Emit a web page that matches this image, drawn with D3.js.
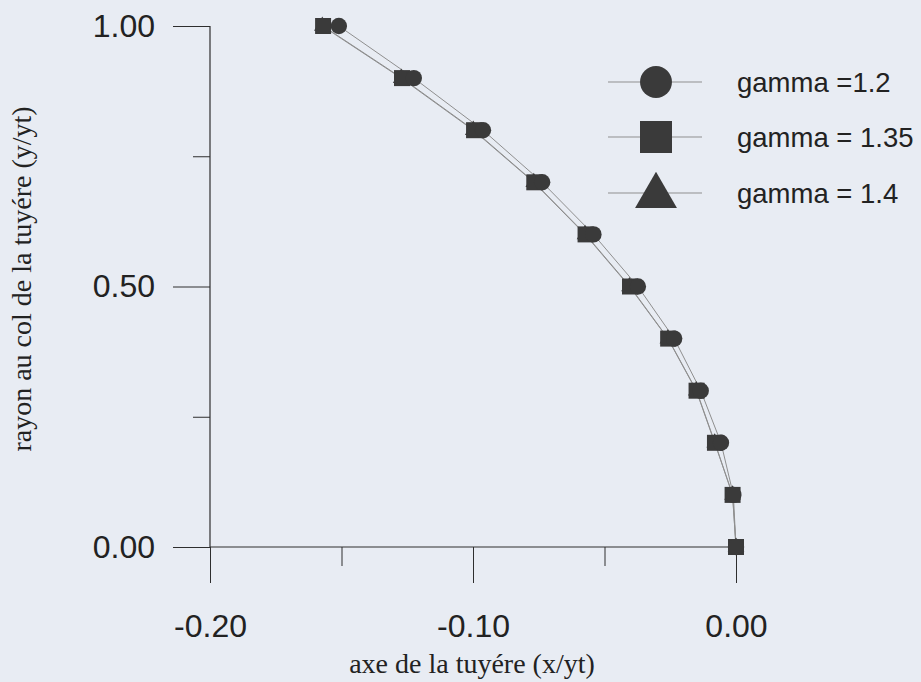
<!DOCTYPE html>
<html>
<head>
<meta charset="utf-8">
<script src="https://cdn.jsdelivr.net/npm/d3@7"></script>
<style>
  html, body { margin: 0; padding: 0; background: #e8ecf3; }
  svg { display: block; }
</style>
</head>
<body>
<svg id="chart" width="921" height="682"></svg>
<script>
// Nozzle wall profile: radius at throat (y/yt) vs nozzle axis (x/yt)
const radius = [1.0, 0.9, 0.8, 0.7, 0.6, 0.5, 0.4, 0.3, 0.2, 0.1, 0.0];
const xGamma120 = [-0.151, -0.1225, -0.0962, -0.0737, -0.0542, -0.0373, -0.0235, -0.0134, -0.0057, -0.0010, 0.0];
const xGamma135 = [-0.157, -0.127, -0.0996, -0.0767, -0.0572, -0.0403, -0.0258, -0.0150, -0.0080, -0.0013, 0.0];
const xGamma140 = [-0.1573, -0.1273, -0.0999, -0.0769, -0.0574, -0.0405, -0.0259, -0.0151, -0.0081, -0.0013, 0.0];

const seriesNames = ["gamma =1.2", "gamma = 1.35", "gamma = 1.4"];
const seriesShapes = [d3.symbolCircle, d3.symbolSquare, d3.symbolTriangle];

const xTicksMajor = [-0.20, -0.10, 0.00];
const xTicksMinor = [-0.15, -0.05];
const yTicksMajor = [0.00, 0.50, 1.00];
const yTicksMinor = [0.25, 0.75];

const svg = d3.select("#chart");

const x = d3.scaleLinear().domain([-0.20, 0.00]).range([210, 736]);
const y = d3.scaleLinear().domain([0, 1]).range([547, 26]);

const axisColor = "#2e2e2e";
const markColor = "#3a3a3a";
const lineColor = "#8f8f8f";
const fmt = d => d3.format(".2f")(d).replace("\u2212", "-");

// Axes: x axis along y = 0, y axis along x = -0.20, ticks pointing outward
const g = svg.append("g");

const xAxis = d3.axisBottom(x)
  .tickValues(xTicksMajor)
  .tickSize(36)
  .tickPadding(31)
  .tickFormat(fmt);
const xAxisG = g.append("g")
  .attr("transform", `translate(0,${y(0)})`)
  .call(xAxis);
xAxisG.select(".domain").remove();
xAxisG.selectAll("text")
  .attr("font-family", "Liberation Sans, Arial, sans-serif")
  .attr("font-size", 32)
  .attr("fill", "#222");
xAxisG.selectAll("line").attr("stroke", axisColor);

const xMinor = g.append("g")
  .attr("transform", `translate(0,${y(0)})`)
  .call(d3.axisBottom(x).tickValues(xTicksMinor).tickSize(19).tickFormat(""));
xMinor.select(".domain").remove();
xMinor.selectAll("line").attr("stroke", axisColor);

const yAxis = d3.axisLeft(y)
  .tickValues(yTicksMajor)
  .tickSize(37)
  .tickPadding(18)
  .tickFormat(fmt);
const yAxisG = g.append("g")
  .attr("transform", `translate(${x(-0.20)},0)`)
  .call(yAxis);
yAxisG.select(".domain").remove();
yAxisG.selectAll("text")
  .attr("font-family", "Liberation Sans, Arial, sans-serif")
  .attr("font-size", 32)
  .attr("fill", "#222");
yAxisG.selectAll("line").attr("stroke", axisColor);

const yMinor = g.append("g")
  .attr("transform", `translate(${x(-0.20)},0)`)
  .call(d3.axisLeft(y).tickValues(yTicksMinor).tickSize(17).tickFormat(""));
yMinor.select(".domain").remove();
yMinor.selectAll("line").attr("stroke", axisColor);

// Axis lines
g.append("line")
  .attr("x1", x(-0.20)).attr("x2", x(0))
  .attr("y1", y(0)).attr("y2", y(0))
  .attr("stroke", axisColor).attr("stroke-width", 1.2);
g.append("line")
  .attr("x1", x(-0.20)).attr("x2", x(-0.20))
  .attr("y1", y(0)).attr("y2", y(1))
  .attr("stroke", axisColor).attr("stroke-width", 1.2);

// Axis titles
svg.append("text")
  .attr("x", 472).attr("y", 673)
  .attr("text-anchor", "middle")
  .attr("font-family", "Liberation Serif, Times New Roman, serif")
  .attr("font-size", 28)
  .attr("fill", "#222")
  .text("axe de la tuyére (x/yt)");
svg.append("text")
  .attr("transform", "translate(31,279) rotate(-90)")
  .attr("text-anchor", "middle")
  .attr("font-family", "Liberation Serif, Times New Roman, serif")
  .attr("font-size", 28)
  .attr("fill", "#222")
  .text("rayon au col de la tuyére (y/yt)");

// Series
const seriesX = [xGamma120, xGamma135, xGamma140];
const series = seriesX.map((xs, i) => ({
  name: seriesNames[i],
  shape: seriesShapes[i],
  points: xs.map((xv, j) => ({ x: xv, y: radius[j] }))
}));

const line = d3.line().x(d => x(d.x)).y(d => y(d.y));

// draw order: triangle, square, circle (circle on top)
const order = [2, 1, 0];
const markSize = [210, 256, 120];

order.forEach(i => {
  const s = series[i];
  g.append("path")
    .datum(s.points)
    .attr("d", line)
    .attr("fill", "none")
    .attr("stroke", lineColor)
    .attr("stroke-width", 1);
});
order.forEach(i => {
  const s = series[i];
  g.selectAll(null)
    .data(s.points)
    .join("path")
    .attr("transform", d => `translate(${x(d.x)},${y(d.y)})`)
    .attr("d", d3.symbol().type(s.shape).size(markSize[i]))
    .attr("fill", markColor);
});

// Legend
const legend = svg.append("g");
const legendRows = [82, 137, 193];
const legendSize = [800, 1024, 760];
series.forEach((s, i) => {
  const ly = legendRows[i];
  legend.append("line")
    .attr("x1", 608).attr("x2", 702)
    .attr("y1", ly).attr("y2", ly)
    .attr("stroke", lineColor).attr("stroke-width", 1);
  legend.append("path")
    .attr("transform", `translate(656,${ly + (i === 2 ? 3 : 0)})`)
    .attr("d", d3.symbol().type(s.shape).size(legendSize[i]))
    .attr("fill", markColor);
  legend.append("text")
    .attr("x", 737).attr("y", ly)
    .attr("dy", "0.36em")
    .attr("font-family", "Liberation Sans, Arial, sans-serif")
    .attr("font-size", 27.5)
    .attr("fill", "#222")
    .text(s.name);
});
</script>
</body>
</html>
